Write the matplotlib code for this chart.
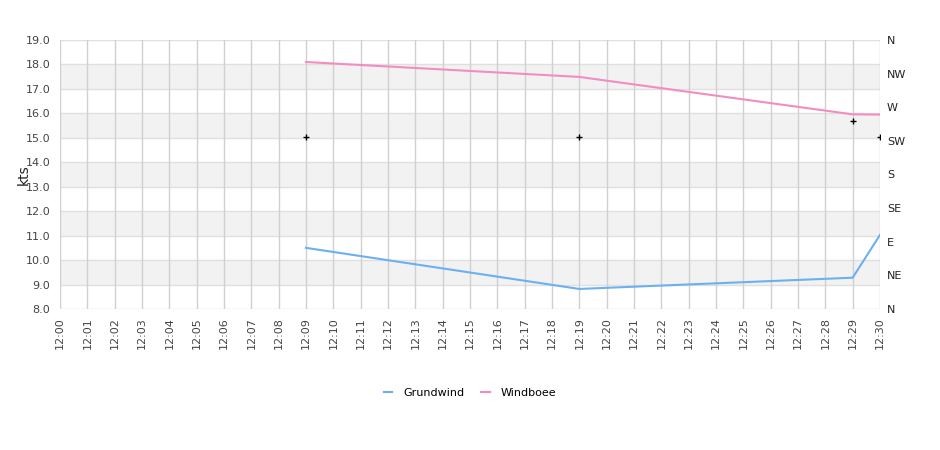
import matplotlib
matplotlib.use("Agg")
import matplotlib.pyplot as plt

minutes = list(range(0, 31))
tick_labels = [f"12:{m:02d}" for m in minutes]

grund_t = [9, 19, 29, 30]
grund_v = [10.5, 8.82, 9.28, 11.03]

boee_t = [9, 19, 29, 30]
boee_v = [18.1, 17.49, 15.96, 15.95]

dir_t = [9, 19, 29, 30]
dir_v = [230, 230, 252, 230]

dir_labels = ["N", "NE", "E", "SE", "S", "SW", "W", "NW", "N"]
dir_ticks = [0, 45, 90, 135, 180, 225, 270, 315, 360]

fig = plt.figure(figsize=(9.4, 4.5), dpi=100)
ax = fig.add_axes([60/940, 1-309/450, 820/940, 269/450])

ax.set_xlim(0, 30)
ax.set_ylim(8, 19)

# alternating bands
for lo in range(9, 19, 2):
    ax.axhspan(lo, lo + 1, color="#f2f2f2", zorder=0, lw=0)
for y in range(8, 20):
    ax.axhline(y, color="#e0e0e0", lw=1, zorder=1)
for m in minutes:
    ax.axvline(m, color="#d0d0d0", lw=1, zorder=1)

l1, = ax.plot(grund_t, grund_v, color="#6db0f0", lw=1.5, zorder=3, label="Grundwind")
l2, = ax.plot(boee_t, boee_v, color="#f28dc2", lw=1.5, zorder=3, label="Windboee")

ax.set_xticks(minutes)
ax.set_xticklabels(tick_labels, rotation=90, fontsize=8, color="#444444")
ax.set_yticks(range(8, 20))
ax.set_yticklabels([f"{v:.1f}" for v in range(8, 20)], fontsize=8, color="#444444")
ax.tick_params(length=0, pad=7)
ax.tick_params(axis="x", pad=6)
for s in ax.spines.values():
    s.set_visible(False)
ax.set_ylabel("kts", fontsize=10, color="#222222")
ax.yaxis.set_label_coords(-29/820, 0.5)

ax2 = ax.twinx()
ax2.set_ylim(0, 360)
ax2.set_yticks(dir_ticks)
ax2.set_yticklabels(dir_labels, fontsize=8, color="#222222")
ax2.tick_params(length=0, pad=5)
for s in ax2.spines.values():
    s.set_visible(False)
ax2.plot(dir_t, dir_v, ls="none", marker="+", ms=4, mew=1, color="black", zorder=4)

fig.legend(handles=[l1, l2], loc="center", bbox_to_anchor=(470/940, 1-393/450),
           ncol=2, frameon=False, fontsize=8, handlelength=0.8, columnspacing=1.45,
           handletextpad=1.0)

fig.savefig("out.png", dpi=100)
